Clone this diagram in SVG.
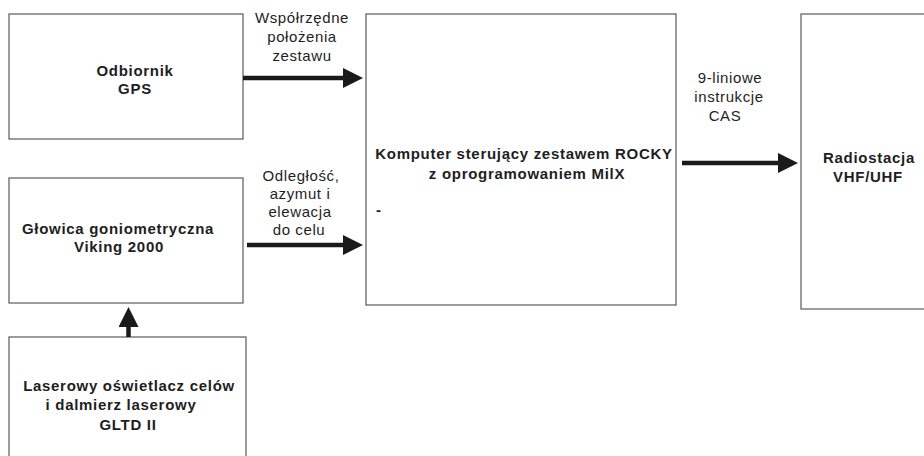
<svg xmlns="http://www.w3.org/2000/svg" width="924" height="456" viewBox="0 0 924 456">
<style>
.box{fill:#fff;stroke:#5a5a5a;stroke-width:1.2}
.t{font-family:"Liberation Sans",Arial,sans-serif;font-size:15px;fill:#1e1e1e;text-anchor:middle;letter-spacing:0.7px}
.b{font-weight:bold}
.lbl{letter-spacing:0.6px}
.c{stroke:#1a1a1a;stroke-width:4.5;fill:none;marker-end:url(#ah)}
</style>
<defs>
<marker id="ah" viewBox="0 -10 20 20" refX="0" refY="0" markerWidth="20" markerHeight="20" markerUnits="userSpaceOnUse" orient="auto">
<path d="M0,-10 L20,0 L0,10 z" fill="#1a1a1a"/>
</marker>
</defs>
<rect width="924" height="456" fill="#fff"/>
<g id="gps">
<rect class="box" x="9" y="14" width="234" height="125"/>
<text class="t b" x="135" y="76">Odbiornik</text>
<text class="t b" x="135" y="94">GPS</text>
</g>
<g id="glowica">
<rect class="box" x="9" y="178" width="234" height="125"/>
<text class="t b" x="118" y="234">Głowica goniometryczna</text>
<text class="t b" x="119" y="252">Viking 2000</text>
</g>
<g id="laser">
<rect class="box" x="9" y="337" width="237" height="125"/>
<text class="t b" x="129" y="391">Laserowy oświetlacz celów</text>
<text class="t b" x="121" y="410">i dalmierz laserowy</text>
<text class="t b" x="128" y="430">GLTD II</text>
</g>
<g id="komputer">
<rect class="box" x="366" y="14" width="310" height="291"/>
<text class="t b" x="524" y="159">Komputer sterujący zestawem ROCKY</text>
<text class="t b" x="527" y="179">z oprogramowaniem MilX</text>
<text class="t b" x="376" y="215" style="text-anchor:start">-</text>
</g>
<g id="radio">
<rect class="box" x="801" y="14" width="130" height="295"/>
<text class="t b" x="869" y="163">Radiostacja</text>
<text class="t b" x="868" y="182">VHF/UHF</text>
</g>
<g id="connectors">
<line class="c" x1="243" y1="78" x2="343" y2="78"/>
<line class="c" x1="247" y1="245" x2="343" y2="245"/>
<line class="c" x1="128.5" y1="337" x2="128.5" y2="327"/>
<line class="c" x1="682" y1="163" x2="778" y2="163"/>
</g>
<g id="labels">
<text class="t lbl" x="302" y="23">Współrzędne</text>
<text class="t lbl" x="302" y="42">położenia</text>
<text class="t lbl" x="302" y="61">zestawu</text>
<text class="t lbl" x="301" y="181">Odległość,</text>
<text class="t lbl" x="300" y="199">azymut i</text>
<text class="t lbl" x="300" y="217">elewacja</text>
<text class="t lbl" x="299" y="235">do celu</text>
<text class="t lbl" x="730" y="83">9-liniowe</text>
<text class="t lbl" x="729" y="102">instrukcje</text>
<text class="t lbl" x="725" y="121">CAS</text>
</g>
</svg>
